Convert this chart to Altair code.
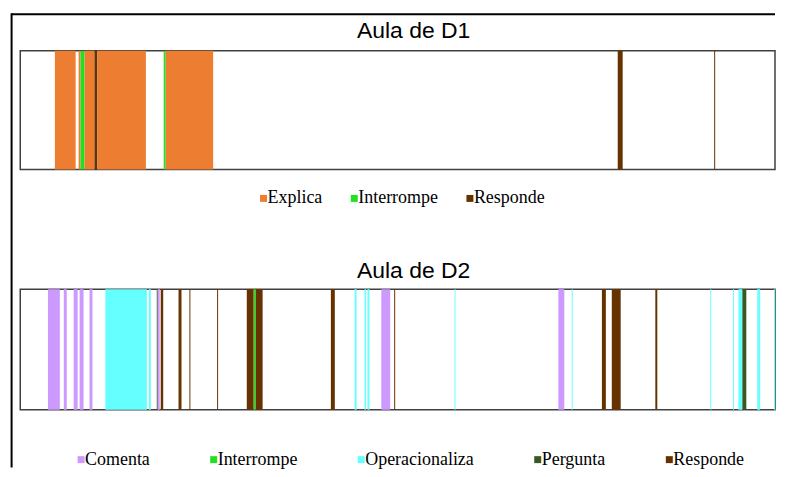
import altair as alt
import pandas as pd

# ---- Aula de D1 (time units along the class) ----
d1_inicio = [35, 59, 61, 65, 75, 78, 145, 147, 604, 701.5]
d1_fim    = [56, 61, 65, 75, 78, 127, 147, 195, 609, 702.5]
d1_cat    = ["Explica", "Explica", "Interrompe", "Explica", "Responde", "Explica",
             "Interrompe", "Explica", "Responde", "Responde"]
d1_legend = ["Explica", "Interrompe", "Responde"]
d1_colors = ["#ED7D31", "#22E022", "#663300"]

# ---- Aula de D2 ----
d2_inicio = [28, 44, 54, 60, 70, 86, 130, 138, 139, 142, 160, 171, 199, 229, 236, 238,
             314, 338, 348, 351, 365, 378, 439, 544, 557.5, 588, 598, 642, 697.5,
             720.5, 726, 730, 745, 762]
d2_fim    = [40, 47, 58, 64, 73, 128, 132, 139, 141, 144.5, 163, 172, 200, 236, 238, 245,
             318, 340, 349.5, 353, 374, 379, 440, 550, 558.5, 592, 607, 644, 698.5,
             721.5, 730, 734, 748, 763]
d2_cat    = ["Comenta", "Comenta", "Comenta", "Comenta", "Comenta", "Operacionaliza",
             "Operacionaliza", "Pergunta", "Comenta", "Responde", "Responde", "Responde",
             "Responde", "Responde", "Interrompe", "Responde", "Responde", "Operacionaliza",
             "Operacionaliza", "Operacionaliza", "Comenta", "Responde", "Operacionaliza",
             "Comenta", "Operacionaliza", "Responde", "Responde", "Responde",
             "Operacionaliza", "Operacionaliza", "Operacionaliza", "Pergunta",
             "Operacionaliza", "Operacionaliza"]
d2_legend = ["Comenta", "Interrompe", "Operacionaliza", "Pergunta", "Responde"]
d2_colors = ["#CC99FF", "#22E022", "#66FFFF", "#385723", "#663300"]

DOMAIN = [0, 763]
W = 757

df1 = pd.DataFrame({"inicio": d1_inicio, "fim": d1_fim, "categoria": d1_cat})
df2 = pd.DataFrame({"inicio": d2_inicio, "fim": d2_fim, "categoria": d2_cat})


def bars(df, cats, colors, lx, ly, colpad):
    return alt.Chart(df).mark_rect().encode(
        x=alt.X("inicio:Q", scale=alt.Scale(domain=DOMAIN, nice=False, zero=False), axis=None),
        x2="fim:Q",
        color=alt.Color(
            "categoria:N",
            scale=alt.Scale(domain=cats, range=colors),
            legend=alt.Legend(
                title=None, orient="none", legendX=lx, legendY=ly,
                direction="horizontal", columnPadding=colpad,
                symbolType="square", symbolSize=49, symbolStrokeWidth=0,
                labelFont="Liberation Serif", labelFontSize=18, labelColor="black",
                labelOffset={"expr": "-5"}, padding=0,
            ),
        ),
    )


def title(t, off):
    return alt.TitleParams(t, font="Liberation Sans", fontSize=23, fontWeight="normal",
                           color="black", anchor="middle", offset=off, dx=16)


# outer chart-area frame (left and top edges)
frame_df = pd.DataFrame({"k": [0]})
frame_top = alt.Chart(frame_df).mark_rule(color="black", strokeWidth=2).encode(
    x=alt.value(-8.7), x2=alt.value(W), y=alt.value(-36.7))
frame_left = alt.Chart(frame_df).mark_rule(color="black", strokeWidth=2).encode(
    x=alt.value(-8.7), y=alt.value(-37.7), y2=alt.value(418))

p1 = alt.layer(
    bars(df1, d1_legend, d1_colors, 235, 139, 23), frame_top, frame_left
).properties(width=W, height=119, title=title("Aula de D1", -30.7))

p2 = bars(df2, d2_legend, d2_colors, 52, 162, 55).properties(
    width=W, height=121, title=title("Aula de D2", 6))

chart = alt.vconcat(p1, p2, spacing=120, bounds="flush").resolve_scale(
    color="independent"
).properties(
    padding={"left": 1.3, "top": 2.3, "right": 0, "bottom": 0},
    background="white",
).configure_view(stroke="#404040", strokeWidth=1.5)

chart.save("out.html", embed_options={"renderer": "svg", "actions": False})
